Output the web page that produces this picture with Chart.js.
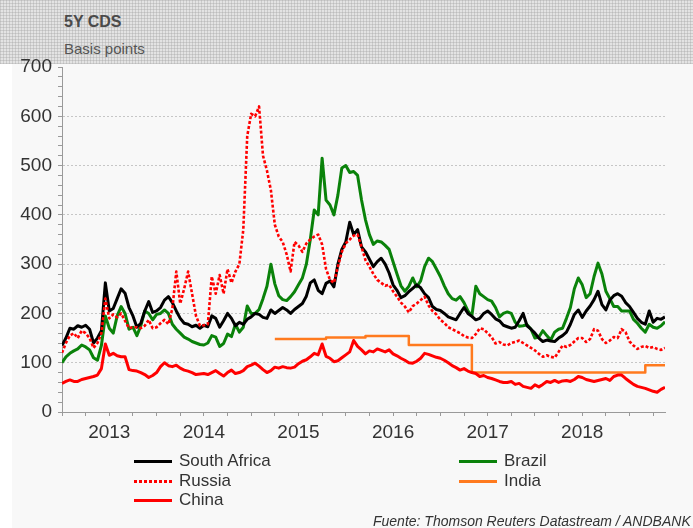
<!DOCTYPE html>
<html>
<head>
<meta charset="utf-8">
<script src="https://cdn.jsdelivr.net/npm/chart.js@4.4.1/dist/chart.umd.min.js"></script>
<style>
  html, body { margin: 0; padding: 0; }
  body { width: 693px; height: 528px; position: relative; overflow: hidden; background: #f8f8f8; font-family: "Liberation Sans", Arial, sans-serif; color: #333; }
  #hdr { position: absolute; left: 0; top: 0; width: 693px; height: 64px;
    background-color: #e3e3e3;
    background-image: repeating-linear-gradient(90deg, rgba(160,160,160,.35) 0 1px, transparent 1px 3px),
                      repeating-linear-gradient(0deg, rgba(160,160,160,.35) 0 1px, transparent 1px 3px); }
  #strip { position: absolute; left: 0; top: 64px; width: 12px; height: 464px; background: #ffffff; }
  #title { position: absolute; left: 64px; top: 12px; font-size: 16px; font-weight: bold; color: #4a4a4a; line-height: 20px; }
  #sub { position: absolute; left: 64px; top: 40px; font-size: 15px; color: #555; line-height: 18px; }
  #cv { position: absolute; left: 0; top: 0; }
  .lg { position: absolute; font-size: 17px; line-height: 20px; color: #333; white-space: nowrap; }
  .sw { position: absolute; width: 38px; height: 3px; }
  #foot { position: absolute; left: 373px; top: 513px; font-size: 14px; font-style: italic; color: #333; line-height: 16px; white-space: nowrap; }
</style>
</head>
<body>
<div id="hdr"></div>
<div id="strip"></div>
<div id="title">5Y CDS</div>
<div id="sub">Basis points</div>
<canvas id="cv" width="693" height="528"></canvas>
<div id="legend"></div>
<div id="foot">Fuente: Thomson Reuters Datastream / ANDBANK</div>
<script>
const dates = [
"2013-01-01","2013-01-16","2013-02-01","2013-02-16","2013-03-01","2013-03-16","2013-04-01","2013-04-16","2013-05-01","2013-05-16","2013-06-01","2013-06-16",
"2013-07-01","2013-07-16","2013-08-01","2013-08-16","2013-09-01","2013-09-16","2013-10-01","2013-10-16","2013-11-01","2013-11-16","2013-12-01","2013-12-16",
"2014-01-01","2014-01-16","2014-02-01","2014-02-16","2014-03-01","2014-03-16","2014-04-01","2014-04-16","2014-05-01","2014-05-16","2014-06-01","2014-06-16",
"2014-07-01","2014-07-16","2014-08-01","2014-08-16","2014-09-01","2014-09-16","2014-10-01","2014-10-16","2014-11-01","2014-11-16","2014-12-01","2014-12-16",
"2015-01-01","2015-01-16","2015-02-01","2015-02-16","2015-03-01","2015-03-16","2015-04-01","2015-04-16","2015-05-01","2015-05-16","2015-06-01","2015-06-16",
"2015-07-01","2015-07-16","2015-08-01","2015-08-16","2015-09-01","2015-09-16","2015-10-01","2015-10-16","2015-11-01","2015-11-16","2015-12-01","2015-12-16",
"2016-01-01","2016-01-16","2016-02-01","2016-02-16","2016-03-01","2016-03-16","2016-04-01","2016-04-16","2016-05-01","2016-05-16","2016-06-01","2016-06-16",
"2016-07-01","2016-07-16","2016-08-01","2016-08-16","2016-09-01","2016-09-16","2016-10-01","2016-10-16","2016-11-01","2016-11-16","2016-12-01","2016-12-16",
"2017-01-01","2017-01-16","2017-02-01","2017-02-16","2017-03-01","2017-03-16","2017-04-01","2017-04-16","2017-05-01","2017-05-16","2017-06-01","2017-06-16",
"2017-07-01","2017-07-16","2017-08-01","2017-08-16","2017-09-01","2017-09-16","2017-10-01","2017-10-16","2017-11-01","2017-11-16","2017-12-01","2017-12-16",
"2018-01-01","2018-01-16","2018-02-01","2018-02-16","2018-03-01","2018-03-16","2018-04-01","2018-04-16","2018-05-01","2018-05-16","2018-06-01","2018-06-16",
"2018-07-01","2018-07-16","2018-08-01","2018-08-16","2018-09-01","2018-09-16","2018-10-01","2018-10-16","2018-11-01","2018-11-16","2018-12-01","2018-12-16",
"2019-01-01","2019-01-16","2019-02-01","2019-02-16","2019-03-01","2019-03-16","2019-04-01","2019-04-16","2019-05-01","2019-05-16"
];

const southAfrica = [
135,150,170,168,175,172,176,168,140,150,
165,262,205,210,230,250,241,212,195,172,
180,205,224,202,205,212,227,234,222,205,
190,180,178,173,176,170,176,173,195,190,
172,185,200,190,175,182,178,188,193,200,
198,192,190,207,200,206,212,207,200,208,
214,220,235,262,268,247,240,261,266,254,
300,330,345,385,360,370,335,325,310,295,
305,312,300,282,258,247,232,236,244,251,
258,252,240,232,214,208,206,200,193,190,
187,200,212,200,194,187,190,200,205,198,
189,185,176,173,170,172,185,200,175,168,
160,150,143,146,144,143,150,155,162,178,
198,207,192,205,215,228,245,218,207,227,
236,240,235,222,214,202,190,182,178,205,
182,190,188,193];

const brazil = [
100,112,119,124,128,136,132,126,110,105,
135,195,170,160,195,214,200,168,172,155,
175,205,200,187,198,200,207,200,178,168,
160,152,148,143,140,137,136,140,155,152,
133,139,158,153,178,162,172,215,200,200,
208,230,255,300,260,236,228,226,234,244,
258,272,300,350,410,400,515,430,420,400,
440,495,500,486,488,480,430,390,360,340,
347,345,338,330,305,280,256,245,255,272,
254,266,295,312,305,290,275,256,240,230,
227,234,222,205,195,255,240,234,228,225,
212,193,200,203,200,182,174,175,177,168,
150,152,165,155,146,162,168,170,190,212,
250,272,258,232,240,275,302,280,245,230,
214,214,205,205,205,188,180,170,162,178,
172,170,175,183];

const russia = [
120,140,155,160,150,165,160,150,130,140,
160,230,190,198,192,200,185,170,172,172,
170,175,187,170,172,180,187,178,210,285,
220,250,285,240,195,175,176,178,275,240,
278,240,290,262,285,300,370,560,605,600,
620,520,490,450,380,356,345,320,285,345,
338,325,342,350,356,360,340,290,268,262,
295,325,342,350,358,360,335,308,295,280,
268,262,256,258,245,234,222,214,202,215,
220,227,234,216,205,198,187,181,172,168,
164,160,154,151,150,158,170,168,160,152,
139,142,137,135,140,142,145,140,135,130,
125,118,112,115,112,110,122,135,132,136,
143,150,150,142,148,168,165,148,140,145,
152,150,168,162,143,135,128,132,134,130,
132,128,126,130];

const india = [
null,null,null,null,null,null,null,null,null,null,
null,null,null,null,null,null,null,null,null,null,
null,null,null,null,null,null,null,null,null,null,
null,null,null,null,null,null,null,null,null,null,
null,null,null,null,null,null,null,null,null,null,
null,null,null,null,148,148,148,148,148,148,
148,148,148,148,148,148,148,151,151,151,
151,151,151,151,151,151,151,154,154,154,
154,154,154,154,154,154,154,154,136,136,
136,136,136,136,136,136,136,136,136,136,
136,136,136,136,80,80,80,80,80,80,
80,80,80,80,80,80,80,80,80,80,
80,80,80,80,80,80,80,80,80,80,
80,80,80,80,80,80,80,80,80,80,
80,80,80,80,80,80,80,80,95,95,
95,95,95,95];

const china = [
58,62,65,62,62,66,68,70,72,75,
88,138,115,119,114,112,112,86,84,83,
80,76,70,74,80,92,100,94,92,95,
89,85,83,80,76,77,78,76,80,84,
78,73,80,85,78,80,84,92,95,99,
93,86,80,84,91,89,92,90,89,91,
98,103,106,112,119,116,138,113,109,102,
104,110,116,122,145,133,126,118,124,122,
128,125,122,126,118,114,109,105,100,99,
103,109,119,117,114,111,109,105,100,94,
90,85,88,83,80,78,72,74,70,68,
65,62,60,60,62,56,58,52,50,48,
55,51,56,62,60,64,60,63,64,62,
66,72,70,66,64,62,64,66,68,64,
72,75,75,68,62,56,52,50,48,45,
42,40,46,50];

const yearLabels = ["2013","2014","2015","2016","2017","2018"];
const yTickValues = [0,100,200,300,400,500,600,700];

const legendItems = [
  {label: "South Africa", color: "#000000", dotted: false, col: 0, row: 0},
  {label: "Brazil", color: "#0a820a", dotted: false, col: 1, row: 0},
  {label: "Russia", color: "#ff0000", dotted: true, col: 0, row: 1},
  {label: "India", color: "#ff7a1e", dotted: false, col: 1, row: 1},
  {label: "China", color: "#ff0000", dotted: false, col: 0, row: 2}
];

function toYear(s) {
  const p = s.split('-').map(Number);
  return p[0] + (p[1] - 1) / 12 + (p[2] - 1) / 15 / 24;
}
const xs = dates.map(toYear);
const pts = arr => arr.map((v, i) => ({x: xs[i], y: v}));

const datasets = [
  {label: "China", data: pts(china), borderColor: "#ff0000", borderWidth: 3, order: 1},
  {label: "India", data: pts(india), borderColor: "#ff7a1e", borderWidth: 2.5, stepped: 'before', order: 2},
  {label: "Russia", data: pts(russia), borderColor: "#ff0000", borderWidth: 2.6, borderDash: [3, 2], borderCapStyle: 'butt', order: 3},
  {label: "South Africa", data: pts(southAfrica), borderColor: "#000000", borderWidth: 3, order: 4},
  {label: "Brazil", data: pts(brazil), borderColor: "#0a820a", borderWidth: 3, order: 5}
].map(d => Object.assign({pointRadius: 0, tension: 0, fill: false, spanGaps: false, borderJoinStyle: 'round'}, d));

const firstYear = Number(yearLabels[0]);
const xMin = xs[0];
const xMax = xs[xs.length - 1];

new Chart(document.getElementById('cv'), {
  type: 'line',
  data: {datasets},
  options: {
    responsive: false,
    animation: false,
    events: [],
    layout: {padding: {left: 0, top: 67, right: 28, bottom: 76}},
    plugins: {legend: {display: false}, tooltip: {enabled: false}, title: {display: false}},
    scales: {
      x: {
        type: 'linear',
        min: xMin,
        max: xMax,
        afterBuildTicks: s => {
          const t = [];
          for (let q = 0; firstYear + q * 0.25 <= xMax + 1e-9; q++) t.push({value: firstYear + q * 0.25});
          s.ticks = t;
        },
        afterFit: s => { s.height = 40; },
        border: {display: true, color: '#9a9a9a', width: 1},
        grid: {drawOnChartArea: false, drawTicks: true, tickLength: 4, tickColor: '#9a9a9a'},
        ticks: {
          autoSkip: false, maxRotation: 0, padding: 5,
          color: '#333', font: {family: '"Liberation Sans", Arial, sans-serif', size: 19},
          callback: v => {
            const yr = Math.floor(v + 1e-9);
            const frac = v - yr;
            if (Math.abs(frac - 0.5) < 1e-6) {
              const idx = yearLabels.indexOf(String(yr));
              return idx >= 0 ? yearLabels[idx] : '';
            }
            return '';
          }
        }
      },
      y: {
        min: yTickValues[0],
        max: yTickValues[yTickValues.length - 1],
        afterFit: s => { s.width = 62; },
        border: {display: true, color: '#9a9a9a', width: 1, dash: [2, 2]},
        grid: {
          drawOnChartArea: true, drawTicks: true, tickLength: 4,
          tickColor: '#9a9a9a',
          tickBorderDash: [],
          color: c => (yTickValues.includes(c.tick.value) && c.tick.value > 0 && c.tick.value < 700) ? '#c6c6c6' : 'rgba(0,0,0,0)',
          lineWidth: 1
        },
        ticks: {
          stepSize: 20, autoSkip: false, padding: 6,
          color: '#333', font: {family: '"Liberation Sans", Arial, sans-serif', size: 19},
          callback: v => yTickValues.includes(v) ? String(v) : ''
        }
      }
    }
  }
});

// HTML legend (two columns)
const colX = [134, 459];
const rowY = [461, 481, 500];
const lg = document.getElementById('legend');
legendItems.forEach(it => {
  const sw = document.createElement('div');
  sw.className = 'sw';
  sw.style.left = colX[it.col] + 'px';
  sw.style.top = (rowY[it.row] - 1.5) + 'px';
  if (it.dotted) {
    sw.style.background = 'repeating-linear-gradient(90deg, ' + it.color + ' 0 3px, transparent 3px 5px)';
  } else {
    sw.style.background = it.color;
  }
  lg.appendChild(sw);
  const tx = document.createElement('div');
  tx.className = 'lg';
  tx.style.left = (colX[it.col] + 45) + 'px';
  tx.style.top = (rowY[it.row] - 10) + 'px';
  tx.textContent = it.label;
  lg.appendChild(tx);
});
</script>
</body>
</html>
